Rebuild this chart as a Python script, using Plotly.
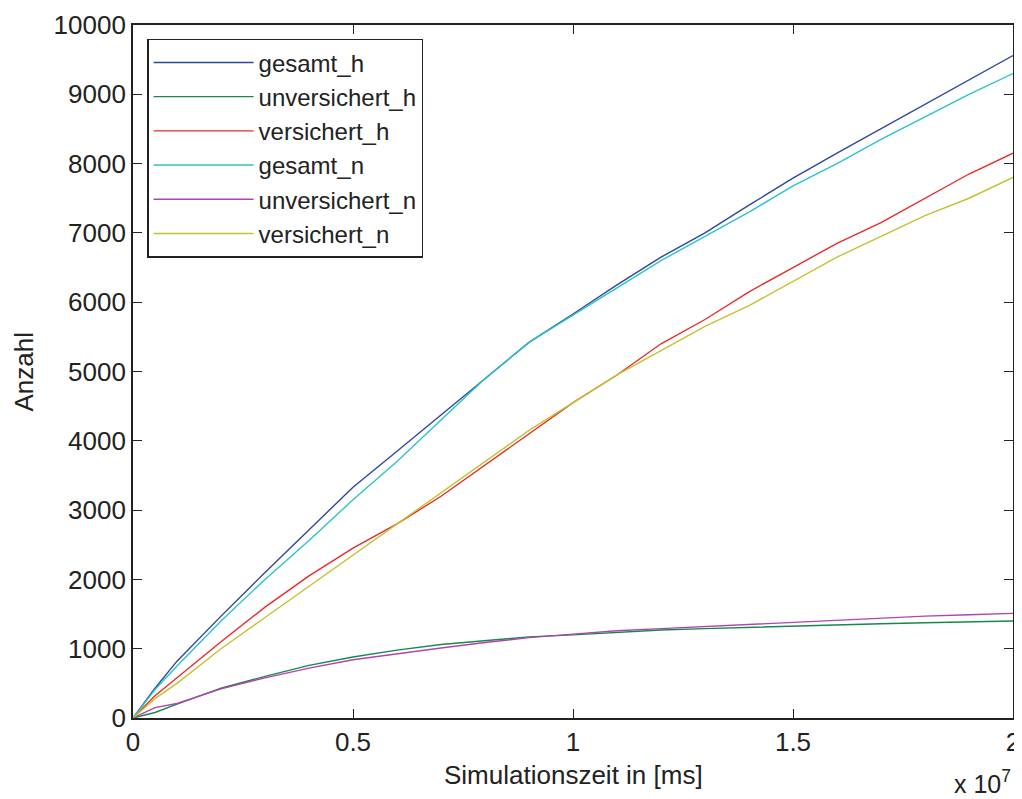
import plotly.graph_objects as go

# simulation time in ms
zeit = [0, 0.05e7, 0.1e7, 0.2e7, 0.3e7, 0.4e7, 0.5e7, 0.6e7, 0.7e7, 0.8e7, 0.9e7, 1.0e7,
        1.1e7, 1.2e7, 1.3e7, 1.4e7, 1.5e7, 1.6e7, 1.7e7, 1.8e7, 1.9e7, 2.0e7]

gesamt_h = [0, 430, 820, 1470, 2100, 2720, 3330, 3850, 4370, 4900, 5420, 5830,
            6250, 6650, 7000, 7400, 7790, 8150, 8500, 8850, 9200, 9560]
unversichert_h = [0, 80, 200, 430, 600, 760, 880, 980, 1060, 1120, 1170, 1200,
                  1240, 1270, 1290, 1310, 1330, 1340, 1360, 1375, 1390, 1400]
versichert_h = [0, 320, 580, 1100, 1600, 2050, 2450, 2800, 3200, 3650, 4100, 4550,
                4950, 5400, 5750, 6150, 6500, 6850, 7150, 7500, 7850, 8150]
gesamt_n = [0, 410, 750, 1400, 2000, 2560, 3150, 3700, 4300, 4900, 5420, 5810,
            6200, 6600, 6950, 7300, 7680, 8000, 8350, 8680, 9000, 9300]
unversichert_n = [0, 150, 210, 420, 580, 720, 840, 930, 1010, 1090, 1160, 1210,
                  1260, 1290, 1320, 1360, 1390, 1420, 1450, 1470, 1490, 1510]
versichert_n = [0, 280, 500, 1000, 1450, 1900, 2350, 2800, 3250, 3700, 4150, 4550,
                4950, 5300, 5650, 5950, 6300, 6650, 6950, 7250, 7500, 7800]

serien = [
    ('gesamt_h', gesamt_h, '#2d47a0'),
    ('unversichert_h', unversichert_h, '#16894a'),
    ('versichert_h', versichert_h, '#ea2a2a'),
    ('gesamt_n', gesamt_n, '#2cc3c6'),
    ('unversichert_n', unversichert_n, '#b043b0'),
    ('versichert_n', versichert_n, '#c3c232'),
]

x_ticks = [0, 0.5e7, 1.0e7, 1.5e7, 2.0e7]
x_labels = ['0', '0.5', '1', '1.5', '2']
y_ticks = list(range(0, 10001, 1000))
y_labels = [str(v) for v in y_ticks]

fig = go.Figure()
for name, werte, farbe in serien:
    fig.add_trace(go.Scatter(x=zeit, y=werte, mode='lines', name=name,
                             line=dict(color=farbe, width=1.4)))

achse = dict(showline=True, linecolor='#222', linewidth=1.8, mirror='ticks',
             ticks='inside', ticklen=9, tickcolor='#222', tickwidth=1.3,
             showgrid=False, zeroline=False, automargin=False,
             tickfont=dict(size=26, color='#222'))

fig.update_xaxes(range=[0, 2e7], tickvals=x_ticks, ticktext=x_labels, **achse)
fig.update_yaxes(range=[0, 10000], tickvals=y_ticks, ticktext=y_labels, **achse)

# axis titles and the exponent note, placed like the MATLAB figure
fig.add_annotation(text='Simulationszeit in [ms]', xref='paper', yref='paper', x=0.5, y=-0.082,
                   xanchor='center', yanchor='middle', showarrow=False,
                   font=dict(size=26, color='#222'))
fig.add_annotation(text='Anzahl', xref='paper', yref='paper', x=-0.125, y=0.5,
                   xanchor='center', yanchor='middle', showarrow=False, textangle=-90,
                   font=dict(size=26, color='#222'))
fig.add_annotation(text='x 10<sup>7</sup>', xref='paper', yref='paper', x=1.0, y=-0.118,
                   xanchor='right', yanchor='bottom', showarrow=False,
                   font=dict(size=25, color='#222'))

# page body has an 8px margin, so the figure is 8px smaller than the window
fig.update_layout(
    width=1014, height=791,
    margin=dict(l=125, r=9, t=17, b=81),
    paper_bgcolor='white', plot_bgcolor='white',
    font=dict(family='Liberation Sans, Arial, sans-serif', color='#222'),
    legend=dict(x=0.016, y=0.98, xanchor='left', yanchor='top',
                bgcolor='white', bordercolor='#222', borderwidth=1.5,
                itemwidth=100,
                font=dict(size=24, color='#222'), tracegroupgap=0),
)

fig.write_html("out.html")
